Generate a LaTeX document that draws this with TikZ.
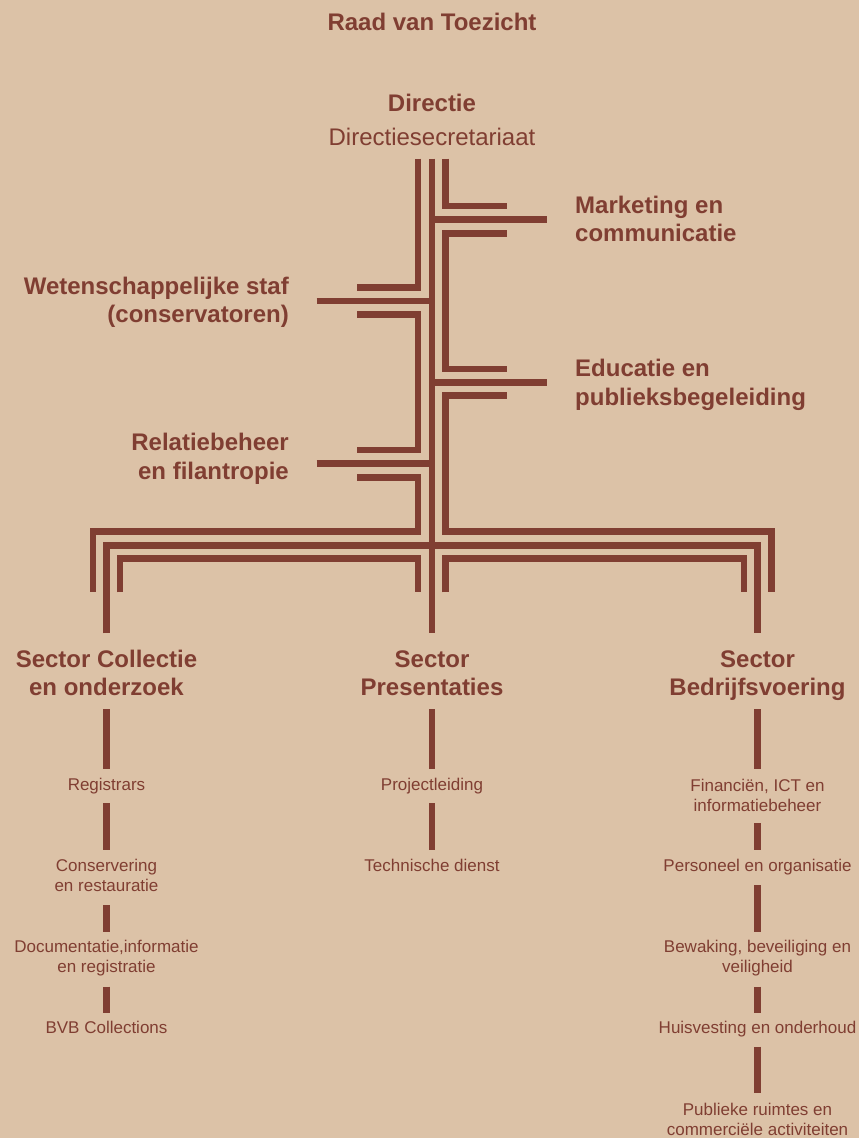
\documentclass[tikz,border=0pt]{standalone}
\usepackage{fontspec}
\setmainfont{Liberation Sans}
\definecolor{bg}{RGB}{220,194,167}
\definecolor{brn}{RGB}{128,62,50}
\begin{document}
\begin{tikzpicture}[x=1pt,y=-1pt,
  ln/.style={draw=brn,line width=6.7pt,line join=miter,line cap=butt},
  head/.style={text=brn,inner sep=0pt,font=\fontsize{24}{28.5}\selectfont\bfseries},
  headreg/.style={text=brn,inner sep=0pt,font=\fontsize{24}{28.5}\selectfont},
  sub/.style={text=brn,inner sep=0pt,font=\fontsize{17}{20}\selectfont}]
\fill[bg] (0,0) rectangle (859,1138);
\useasboundingbox (0,0) rectangle (859,1138);

% ---- top labels
\node[head,anchor=base] (rvt) at (432,30.7) {Raad van Toezicht};
\node[head,anchor=base] (dir) at (432,111) {Directie};
\node[headreg,anchor=base] (dirsec) at (432,145.7) {Directiesecretariaat};

% ---- staff labels
\node[head,anchor=base west] (mkt) at (575,213.3) {\begin{tabular}[t]{@{}l@{}}Marketing en\\communicatie\end{tabular}};
\node[head,anchor=base west] (edu) at (575,376.7) {\begin{tabular}[t]{@{}l@{}}Educatie en\\publieksbegeleiding\end{tabular}};
\node[head,anchor=base east] (wet) at (289,294) {\begin{tabular}[t]{@{}r@{}}Wetenschappelijke staf\\(conservatoren)\end{tabular}};
\node[head,anchor=base east] (rel) at (289,450.7) {\begin{tabular}[t]{@{}r@{}}Relatiebeheer\\en filantropie\end{tabular}};

% ---- sector labels
\node[head,anchor=base] (sc1) at (106.5,667.3) {\begin{tabular}[t]{@{}c@{}}Sector Collectie\\en onderzoek\end{tabular}};
\node[head,anchor=base] (sc2) at (432,667.3) {\begin{tabular}[t]{@{}c@{}}Sector\\Presentaties\end{tabular}};
\node[head,anchor=base] (sc3) at (757.5,667.3) {\begin{tabular}[t]{@{}c@{}}Sector\\Bedrijfsvoering\end{tabular}};

% ---- sub items left
\node[sub,anchor=base] (reg) at (106.5,790.7) {Registrars};
\node[sub,anchor=base] (con) at (106.5,871.7) {\begin{tabular}[t]{@{}c@{}}Conservering\\en restauratie\end{tabular}};
\node[sub,anchor=base] (doc) at (106.5,952.7) {\begin{tabular}[t]{@{}c@{}}Documentatie,informatie\\en registratie\end{tabular}};
\node[sub,anchor=base] (bvb) at (106.5,1033.3) {BVB Collections};
% ---- sub items middle
\node[sub,anchor=base] (prj) at (432,790.7) {Projectleiding};
\node[sub,anchor=base] (tech) at (432,871) {Technische dienst};
% ---- sub items right
\node[sub,anchor=base] (fin) at (757.5,791.7) {\begin{tabular}[t]{@{}c@{}}Financiën, ICT en\\informatiebeheer\end{tabular}};
\node[sub,anchor=base] (pers) at (757.5,871) {Personeel en organisatie};
\node[sub,anchor=base] (bew) at (757.5,952.7) {\begin{tabular}[t]{@{}c@{}}Bewaking, beveiliging en\\veiligheid\end{tabular}};
\node[sub,anchor=base] (huis) at (757.5,1033.3) {Huisvesting en onderhoud};
\node[sub,anchor=base] (pub) at (757.5,1115.3) {\begin{tabular}[t]{@{}c@{}}Publieke ruimtes en\\commerciële activiteiten\end{tabular}};

% ---- trunk coordinates
\coordinate (tl) at (418,158.7);
\coordinate (tc) at (432,158.7);
\coordinate (tr) at (445.7,158.7);

% left strand
\draw[ln] (tl) -- (418,287.7) -- (357.3,287.7);
\draw[ln] (357.3,314.7) -- (418,314.7) -- (418,450) -- (357.3,450);
\draw[ln] (357.3,477.3) -- (418,477.3) -- (418,531.7) -- (93,531.7) -- (93,592.3);
% centre strand
\draw[ln] (tc) -- (432,633.3);
\draw[ln] (432,219.7) -- (547.3,219.7);
\draw[ln] (316.7,301) -- (432,301);
\draw[ln] (432,382.7) -- (547.3,382.7);
\draw[ln] (316.7,463.7) -- (432,463.7);
\draw[ln] (106.5,633.3) -- (106.5,545.3) -- (757.5,545.3) -- (757.5,633.3);
% right strand
\draw[ln] (tr) -- (445.7,206) -- (506.7,206);
\draw[ln] (506.7,233.3) -- (445.7,233.3) -- (445.7,369) -- (506.7,369);
\draw[ln] (506.7,395.7) -- (445.7,395.7) -- (445.7,531.7) -- (771.3,531.7) -- (771.3,592.3);
% inner strands
\draw[ln] (120,592.3) -- (120,558.7) -- (418,558.7) -- (418,592.3);
\draw[ln] (445.7,592.3) -- (445.7,558.7) -- (744,558.7) -- (744,592.3);

% ---- sector bars left
\draw[ln] (106.5,709) -- (106.5,768.7);
\draw[ln] (106.5,803.3) -- (106.5,850);
\draw[ln] (106.5,905) -- (106.5,931.7);
\draw[ln] (106.5,986.7) -- (106.5,1013.3);
% middle
\draw[ln] (432,709) -- (432,768.7);
\draw[ln] (432,803.3) -- (432,850);
% right
\draw[ln] (757.5,709) -- (757.5,768.7);
\draw[ln] (757.5,823) -- (757.5,850);
\draw[ln] (757.5,885) -- (757.5,931.7);
\draw[ln] (757.5,986.7) -- (757.5,1013.3);
\draw[ln] (757.5,1046.7) -- (757.5,1093.3);
\end{tikzpicture}
\end{document}
